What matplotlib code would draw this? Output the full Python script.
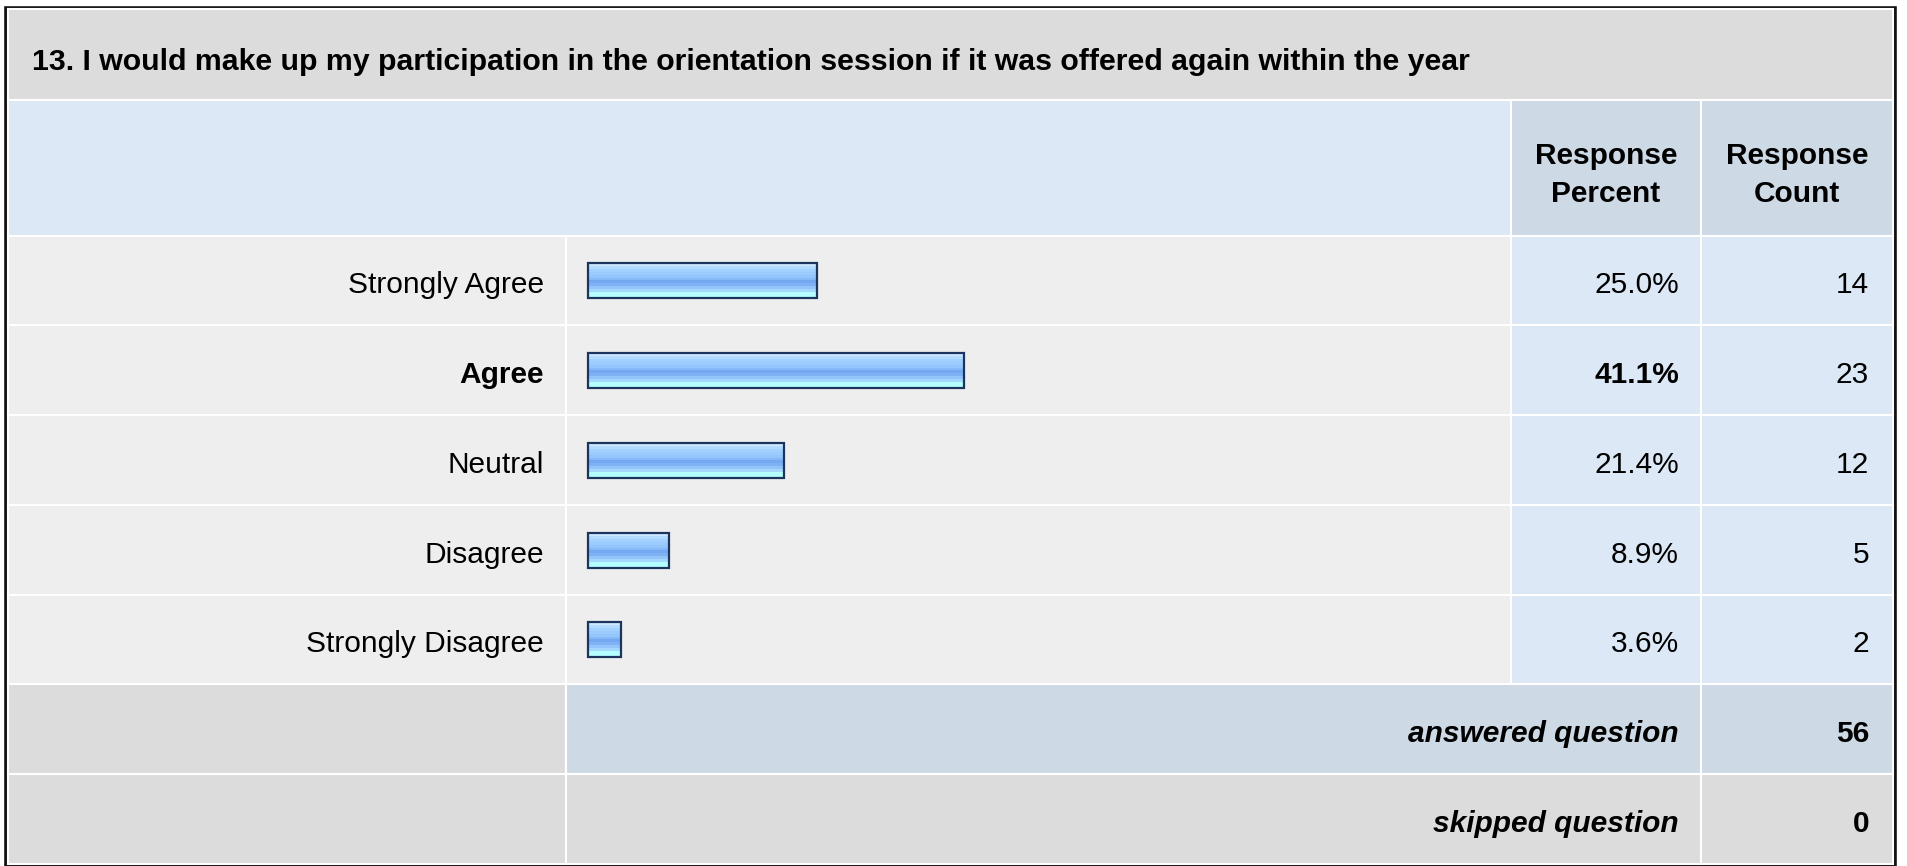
import numpy as np
import matplotlib
matplotlib.use("Agg")
import matplotlib.pyplot as plt
from matplotlib.patches import Rectangle
from matplotlib.colors import to_rgb

# survey data
question = "13. I would make up my participation in the orientation session if it was offered again within the year"
answers = ["Strongly Agree", "Agree", "Neutral", "Disagree", "Strongly Disagree"]
percents = [25.0, 41.1, 21.4, 8.9, 3.6]
counts = [14, 23, 12, 5, 2]
answered = 56
skipped = 0
top_answer = "Agree"

plt.rcParams['font.family'] = ['Liberation Sans', 'DejaVu Sans']
FS = 21.5

W, H = 1907, 866
fig = plt.figure(figsize=(W / 100, H / 100), dpi=100)
ax = fig.add_axes([0, 0, 1, 1])
ax.set_xlim(0, W)
ax.set_ylim(H, 0)
ax.axis('off')

GRAY = '#dcdcdc'
ROWBG = '#eeeeee'
LBLUE = '#dce8f5'
MBLUE = '#cdd9e5'

# column edges (pixels)
x0, x_lab, x_pct, x_cnt, x1 = 8, 566, 1511, 1701, 1893
title_top, head_top, head_bot = 9, 100, 235.5
pitch = 89.75


def cell(xa, xb, ya, yb, color):
    ax.add_patch(Rectangle((xa, ya), xb - xa, yb - ya, facecolor=color,
                           edgecolor='white', linewidth=1.5))


# outer frame
ax.add_patch(Rectangle((5.5, 7.5), 1889.5, 857, facecolor='white',
                       edgecolor='#111111', linewidth=2.6))

# title row
cell(x0, x1, title_top, head_top, GRAY)
ax.text(32, 70, question, fontsize=21.8, fontweight='bold', va='baseline', ha='left')

# header row
cell(x0, x_pct, head_top, head_bot, LBLUE)
cell(x_pct, x_cnt, head_top, head_bot, MBLUE)
cell(x_cnt, x1, head_top, head_bot, MBLUE)
hc = (head_top + head_bot) / 2 + 7
ax.text((x_pct + x_cnt) / 2, hc, "Response\nPercent", fontsize=FS, fontweight='bold',
        ha='center', va='center', linespacing=1.45)
ax.text((x_cnt + x1) / 2, hc, "Response\nCount", fontsize=FS, fontweight='bold',
        ha='center', va='center', linespacing=1.45)

# bar gradient (top to bottom)
grad_hex = ['#cfe8ff', '#b3dbff', '#a3d1ff', '#9ccbff', '#95c5fd', '#86b9f8',
            '#74a9f1', '#7eb2f4', '#93c5fb', '#a4d8ff', '#b4feff', '#b4ffff']
grad = np.array([to_rgb(c) for c in grad_hex])[:, None, :]

bar_left = 588
px_per_pct = 9.15
bar_h = 35

for i, (lab, p, c) in enumerate(zip(answers, percents, counts)):
    ya = head_bot + i * pitch
    yb = ya + pitch
    cell(x0, x_lab, ya, yb, ROWBG)
    cell(x_lab, x_pct, ya, yb, ROWBG)
    cell(x_pct, x_cnt, ya, yb, LBLUE)
    cell(x_cnt, x1, ya, yb, LBLUE)
    yc = (ya + yb) / 2
    bold = 'bold' if lab == top_answer else 'normal'
    base = yc + 13
    ax.text(x_lab - 22, base, lab, fontsize=FS, fontweight=bold, ha='right', va='baseline')
    ax.text(x_cnt - 22, base, f"{p:.1f}%", fontsize=FS, fontweight=bold, ha='right', va='baseline')
    ax.text(x1 - 24, base, str(c), fontsize=FS, ha='right', va='baseline')

    # gradient bar
    bw = p * px_per_pct
    bt = yc - bar_h / 2 + 0.5
    ax.imshow(grad, extent=(bar_left, bar_left + bw, bt + bar_h, bt),
              aspect='auto', interpolation='nearest', zorder=3)
    ax.barh(bt + bar_h / 2, bw, height=bar_h, left=bar_left, facecolor='none',
            edgecolor='#1c355e', linewidth=1.6, zorder=4)

# summary rows
ya = head_bot + len(answers) * pitch
cell(x0, x_lab, ya, ya + pitch, GRAY)
cell(x_lab, x_cnt, ya, ya + pitch, MBLUE)
cell(x_cnt, x1, ya, ya + pitch, MBLUE)
base = ya + pitch / 2 + 13
ax.text(x_cnt - 22, base, "answered question", fontsize=FS, fontweight='bold',
        style='italic', ha='right', va='baseline')
ax.text(x1 - 24, base, str(answered), fontsize=FS, fontweight='bold', ha='right', va='baseline')

ya += pitch
cell(x0, x_lab, ya, ya + pitch, GRAY)
cell(x_lab, x_cnt, ya, ya + pitch, GRAY)
cell(x_cnt, x1, ya, ya + pitch, GRAY)
base = ya + pitch / 2 + 13
ax.text(x_cnt - 22, base, "skipped question", fontsize=FS, fontweight='bold',
        style='italic', ha='right', va='baseline')
ax.text(x1 - 24, base, str(skipped), fontsize=FS, fontweight='bold', ha='right', va='baseline')

ax.set_xlim(0, W)
ax.set_ylim(H, 0)
fig.savefig('out.png', dpi=100)
